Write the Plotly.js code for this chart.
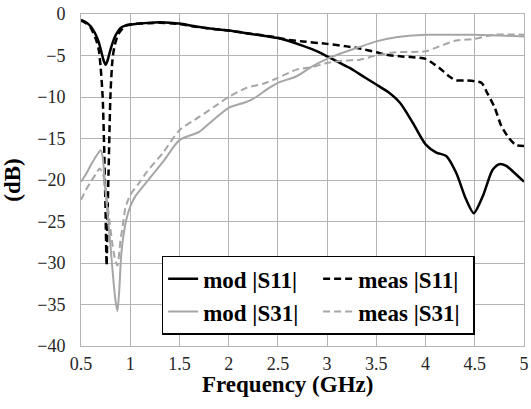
<!DOCTYPE html>
<html>
<head>
<meta charset="utf-8">
<script src="https://cdn.plot.ly/plotly-3.0.1.min.js"></script>
<style>html,body{margin:0;padding:0;background:#fff;}#chart{width:531px;height:409px;}</style>
</head>
<body>
<div id="chart"></div>
<script>
// mod |S11|
const fModS11 = [0.5,0.55,0.6,0.65,0.68,0.71,0.73,0.75,0.77,0.79,0.82,0.85,0.9,0.95,1.0,1.1,1.2,1.3,1.4,1.5,1.67,1.85,2.0,2.2,2.42,2.5,2.77,2.9,3.0,3.1,3.23,3.35,3.5,3.62,3.74,3.87,4.0,4.11,4.21,4.31,4.41,4.49,4.58,4.68,4.75,4.82,4.89,5.0];
const vModS11 = [-0.7,-1.0,-1.5,-2.5,-3.4,-4.7,-5.6,-6.1,-5.6,-4.7,-3.5,-2.6,-1.7,-1.4,-1.3,-1.15,-1.05,-1.0,-1.05,-1.15,-1.5,-1.8,-2.0,-2.35,-2.75,-2.9,-3.9,-4.5,-5.1,-5.7,-6.5,-7.4,-8.5,-9.4,-10.7,-13.1,-15.7,-16.7,-17.1,-19.1,-22.3,-24.0,-22.0,-18.8,-18.1,-18.3,-19.0,-20.2];
// meas |S11|
const fMeasS11 = [0.5,0.55,0.6,0.65,0.68,0.7,0.72,0.735,0.75,0.76,0.77,0.78,0.8,0.82,0.84,0.88,0.95,1.0,1.1,1.2,1.3,1.4,1.5,1.7,2.0,2.2,2.45,2.6,2.75,3.0,3.2,3.35,3.5,3.6,3.74,3.87,4.0,4.07,4.14,4.25,4.31,4.4,4.5,4.57,4.63,4.7,4.77,4.85,4.92,5.0];
const vMeasS11 = [-0.8,-1.1,-1.7,-3.0,-4.3,-6.5,-10,-16,-24,-30.3,-24,-19,-9.5,-5.5,-3.9,-2.4,-1.4,-1.25,-1.15,-1.1,-1.05,-1.1,-1.2,-1.6,-2.0,-2.35,-2.75,-3.1,-3.3,-3.6,-3.9,-4.2,-4.6,-4.9,-5.1,-5.2,-5.4,-5.9,-6.5,-7.6,-8.0,-8.0,-8.1,-8.3,-9.6,-11.2,-13.5,-15.0,-15.8,-15.9];
// mod |S31|
const fModS31 = [0.5,0.55,0.6,0.65,0.7,0.72,0.74,0.76,0.78,0.8,0.83,0.85,0.87,0.89,0.91,0.94,0.97,1.0,1.05,1.17,1.34,1.5,1.7,1.84,2.0,2.18,2.28,2.4,2.5,2.69,2.85,3.0,3.15,3.3,3.5,3.7,4.0,4.3,4.5,4.75,5.0];
const vModS31 = [-20.2,-19.3,-18.2,-17.2,-16.4,-17.2,-20.0,-22.8,-25.4,-28.0,-32.2,-34.5,-35.8,-33.0,-28.8,-26.0,-24.3,-23.2,-22.0,-20.2,-17.7,-15.2,-14.2,-12.8,-11.3,-10.6,-10.0,-9.0,-8.3,-7.5,-6.3,-5.4,-4.7,-4.1,-3.3,-2.8,-2.5,-2.5,-2.5,-2.6,-2.7];
// meas |S31|
const fMeasS31 = [0.5,0.55,0.6,0.65,0.69,0.72,0.74,0.77,0.79,0.82,0.84,0.87,0.9,0.93,0.95,1.0,1.1,1.17,1.34,1.5,1.7,1.85,2.0,2.18,2.35,2.5,2.69,2.85,3.0,3.19,3.33,3.5,3.7,4.0,4.14,4.31,4.5,4.7,5.0];
const vMeasS31 = [-22.4,-21.2,-20.2,-19.3,-18.6,-19.2,-20.2,-23.0,-25.0,-27.8,-29.2,-30.3,-27.4,-25.0,-23.4,-21.8,-20.2,-19.0,-16.6,-14.0,-12.4,-11.2,-10.0,-8.9,-8.4,-7.7,-6.7,-6.4,-5.9,-5.6,-5.5,-5.0,-4.6,-4.5,-3.9,-3.2,-3.0,-2.5,-2.5];

const names = ['mod |S11|','meas |S11|','mod |S31|','meas |S31|'];
const xTicks = [0.5,1,1.5,2,2.5,3,3.5,4,4.5,5];
const xTickText = ['0.5','1','1.5','2','2.5','3','3.5','4','4.5','5'];
const yTicks = [0,-5,-10,-15,-20,-25,-30,-35,-40];
const xTitle = 'Frequency (GHz)';
const yTitle = '(dB)';

const serif = 'Liberation Serif';
function tr(x,y,name,color,dash,width){
  return {x:x,y:y,name:name,type:'scatter',mode:'lines',
    line:{color:color,dash:dash,width:width,shape:'spline',smoothing:0.7}};
}
const data = [
  tr(fModS11,vModS11,names[0],'#000000','solid',2.5),
  tr(fMeasS11,vMeasS11,names[1],'#000000','7px,4px',2.5),
  tr(fModS31,vModS31,names[2],'#a6a6a6','solid',2),
  tr(fMeasS31,vMeasS31,names[3],'#a6a6a6','7px,4px',2)
];
const layout = {
  width:531,height:409,
  margin:{l:81,r:7,t:14,b:63},
  paper_bgcolor:'#fff',plot_bgcolor:'#fff',
  font:{family:serif,color:'#000',size:18},
  showlegend:true,
  legend:{orientation:'h',x:0.182,y:0.272,xanchor:'left',yanchor:'top',
    bgcolor:'#fff',bordercolor:'#000',borderwidth:1.5,
    font:{family:serif,size:23,color:'#000',weight:'bold'},
    entrywidth:110,traceorder:'normal'},
  xaxis:{range:[0.5,5],tickvals:xTicks,ticktext:xTickText,
    showgrid:true,gridcolor:'#b3b3b3',gridwidth:1,
    zeroline:false,showline:true,linecolor:'#b3b3b3',linewidth:1,mirror:true,
    ticks:'',tickfont:{family:serif,size:18,color:'#262626'},ticklabelstandoff:1,
    automargin:false},
  yaxis:{range:[-40,0],tickvals:yTicks,
    showgrid:true,gridcolor:'#b3b3b3',gridwidth:1,
    zeroline:false,showline:true,linecolor:'#b3b3b3',linewidth:1,mirror:true,
    ticks:'',tickfont:{family:serif,size:18,color:'#262626'},ticklabelstandoff:11,
    title:{text:yTitle,font:{family:serif,size:23,color:'#000',weight:'bold'},standoff:13},
    automargin:false},
  annotations:[{xref:'paper',yref:'paper',x:0.467,y:-0.117,xanchor:'center',yanchor:'middle',
    showarrow:false,text:xTitle,font:{family:serif,size:23,color:'#000',weight:'bold'}}]
};
Plotly.newPlot('chart',data,layout,{displayModeBar:false,staticPlot:true});
</script>
</body>
</html>
